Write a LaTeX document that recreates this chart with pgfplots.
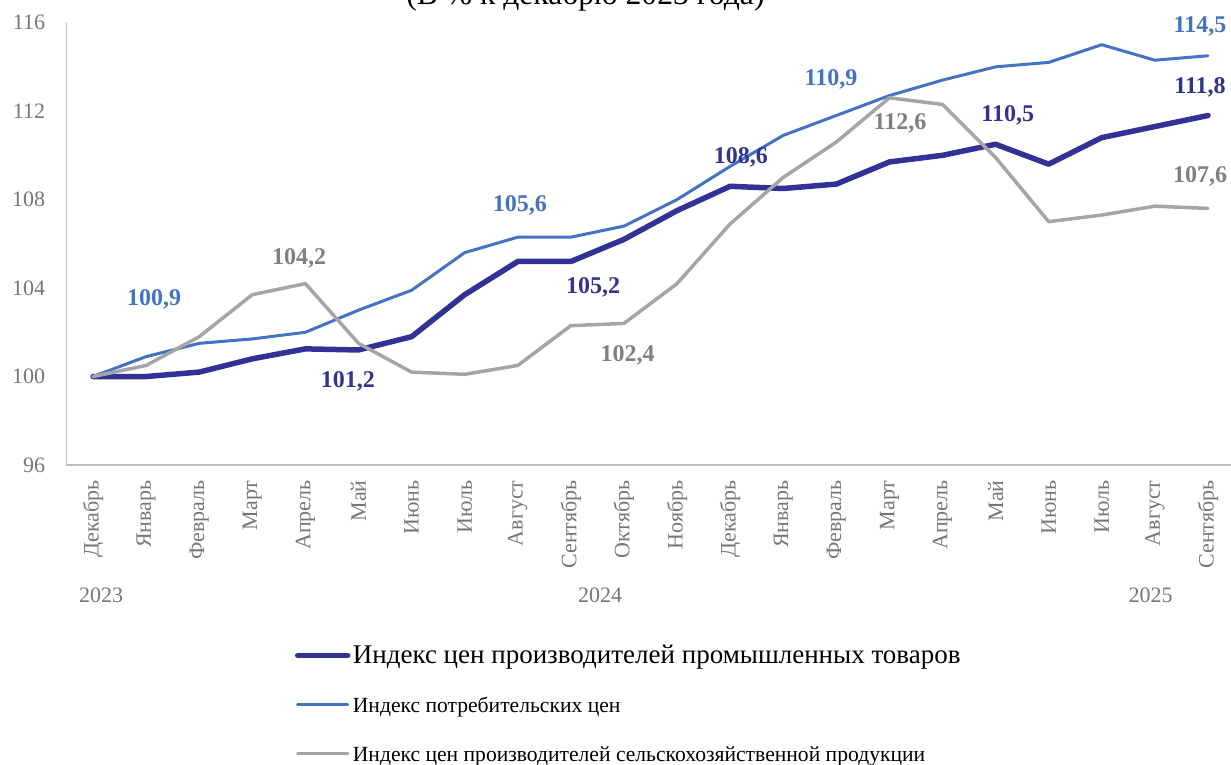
\documentclass[border=0pt]{standalone}
\usepackage{fontspec}
\setmainfont{Liberation Serif}
\usepackage{pgfplots}
\pgfplotsset{compat=1.18}
\definecolor{cdark}{RGB}{50,50,150}
\definecolor{cblue}{RGB}{68,114,196}
\definecolor{cgray}{RGB}{165,165,165}
\definecolor{cgraytxt}{RGB}{128,128,128}
\definecolor{caxis}{RGB}{191,191,191}
\definecolor{ctick}{RGB}{118,118,118}
\begin{document}
\begin{tikzpicture}
\useasboundingbox (0,0) rectangle (615.5pt,382.5pt);
\begin{scope}
\clip (0,0) rectangle (615.5pt,382.5pt);
\node[anchor=base, inner sep=0pt, font=\fontsize{15.8}{18}\selectfont] at (292.7pt,380pt) {(В \% к декабрю 2023 года)};
\end{scope}
\begin{axis}[
  at={(33.25pt,150pt)}, anchor=south west,
  scale only axis, width=584pt, height=221.2pt,
  xmin=-0.5, xmax=21.5, ymin=96, ymax=116,
  ytick={96,100,104,108,112,116},
  xtick={0,...,21},
  xticklabels={Декабрь,Январь,Февраль,Март,Апрель,Май,Июнь,Июль,Август,Сентябрь,Октябрь,Ноябрь,Декабрь,Январь,Февраль,Март,Апрель,Май,Июнь,Июль,Август,Сентябрь},
  axis x line=bottom, axis y line=left,
  axis line style={-, draw=caxis, line width=0.8pt},
  major tick length=0pt,
  tick label style={font=\fontsize{11}{13}\selectfont, text=ctick, inner sep=0pt},
  xticklabel style={rotate=90, anchor=east},
  xticklabel shift=7.5pt,
  yticklabel style={anchor=east},
  yticklabel shift=10.5pt,
  /pgf/number format/assume math mode=true,
  clip=false,
  legend cell align=left,
  legend style={draw=none, fill=none, inner sep=0pt, outer sep=0pt,
    at={(0.1956,-0.4069)}, anchor=north west,
    row sep=12.5pt,
    nodes={inner sep=0pt, inner xsep=1pt, text height=9pt, text depth=3pt, text=black},
    /tikz/every even column/.style={column sep=0pt},
    /tikz/every odd column/.style={column sep=0.2pt}},
  legend image code/.code={\draw[#1, line cap=round] (1pt,0.75pt) -- (26pt,0.75pt);},
]
\addplot[cdark, line width=2.75pt, line join=round, line cap=round] coordinates {
(0,100.0) (1,100.0) (2,100.2) (3,100.8) (4,101.25) (5,101.2) (6,101.8) (7,103.7) (8,105.2) (9,105.2) (10,106.2)
(11,107.5) (12,108.6) (13,108.5) (14,108.7) (15,109.7) (16,110.0) (17,110.5) (18,109.6) (19,110.8) (20,111.3) (21,111.8)};
\addlegendentry{\fontsize{13.5}{15}\selectfont Индекс цен производителей промышленных товаров}
\addplot[cblue, line width=1.5pt, line join=round, line cap=round] coordinates {
(0,100.0) (1,100.9) (2,101.5) (3,101.7) (4,102.0) (5,103.0) (6,103.9) (7,105.6) (8,106.3) (9,106.3) (10,106.8)
(11,108.0) (12,109.5) (13,110.9) (14,111.8) (15,112.7) (16,113.4) (17,114.0) (18,114.2) (19,115.0) (20,114.3) (21,114.5)};
\addlegendentry{\fontsize{10.8}{13}\selectfont Индекс потребительских цен}
\addplot[cgray, line width=1.75pt, line join=round, line cap=round] coordinates {
(0,100.0) (1,100.5) (2,101.8) (3,103.7) (4,104.2) (5,101.5) (6,100.2) (7,100.1) (8,100.5) (9,102.3) (10,102.4)
(11,104.2) (12,106.9) (13,109.0) (14,110.6) (15,112.6) (16,112.3) (17,109.9) (18,107.0) (19,107.3) (20,107.7) (21,107.6)};
\addlegendentry{\fontsize{10.8}{13}\selectfont Индекс цен производителей сельскохозяйственной продукции}
% data labels
\begin{scope}[every node/.style={font=\fontsize{12}{14}\selectfont\bfseries, inner sep=0pt}]
\node[text=cblue] at (axis cs:1.15,103.47) {100,9};
\node[text=cgraytxt] at (axis cs:3.88,105.33) {104,2};
\node[text=cdark] at (axis cs:4.80,99.76) {101,2};
\node[text=cblue] at (axis cs:8.04,107.72) {105,6};
\node[text=cdark] at (axis cs:9.42,104.01) {105,2};
\node[text=cgraytxt] at (axis cs:10.07,100.94) {102,4};
\node[text=cdark] at (axis cs:12.2,109.9) {108,6};
\node[text=cblue] at (axis cs:13.9,113.43) {110,9};
\node[text=cgraytxt] at (axis cs:15.2,111.43) {112,6};
\node[text=cdark] at (axis cs:17.23,111.8) {110,5};
\node[text=cblue] at (axis cs:20.85,115.82) {114,5};
\node[text=cdark] at (axis cs:20.85,113.06) {111,8};
\node[text=cgraytxt] at (axis cs:20.85,109.04) {107,6};
\end{scope}
\begin{scope}[every node/.style={font=\fontsize{11}{13}\selectfont, text=ctick, inner sep=0pt}]
\node at (axis cs:0.15,90.12) {2023};
\node at (axis cs:9.55,90.12) {2024};
\node at (axis cs:19.92,90.12) {2025};
\end{scope}
\end{axis}
\end{tikzpicture}
\end{document}
